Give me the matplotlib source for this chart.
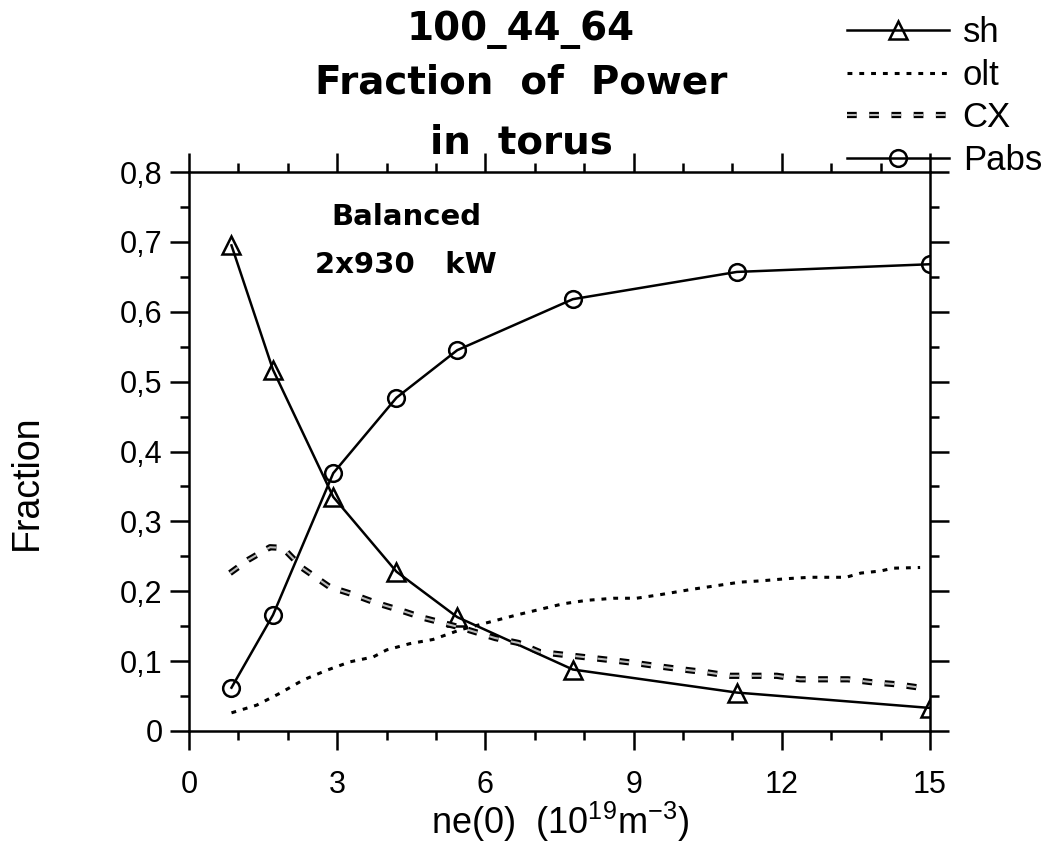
import matplotlib
matplotlib.use("Agg")
import matplotlib.pyplot as plt
from matplotlib.ticker import MultipleLocator, FixedLocator, FixedFormatter

plt.rcParams['font.family'] = ['Liberation Sans', 'DejaVu Sans']
plt.rcParams['mathtext.fontset'] = 'custom'
plt.rcParams['mathtext.rm'] = 'Liberation Sans'
plt.rcParams['mathtext.it'] = 'Liberation Sans:italic'
plt.rcParams['lines.scale_dashes'] = False

# marker series (sh, Pabs) share the same densities
ne_pts = [0.86, 1.7, 2.92, 4.2, 5.43, 7.77, 11.09, 15.0]
sh = [0.695, 0.517, 0.335, 0.228, 0.163, 0.088, 0.055, 0.033]
pabs = [0.062, 0.166, 0.369, 0.477, 0.545, 0.618, 0.657, 0.668]

# olt curve
ne_olt = [0.86, 1.37, 1.84, 2.31, 2.79, 3.26, 3.73, 4.0, 4.47, 4.94, 5.5, 6.09,
          6.63, 7.1, 7.57, 8.05, 8.6, 9.06, 9.53, 10.2, 10.68, 11.15, 11.6,
          12.1, 12.57, 13.3, 13.6, 14.0, 14.25, 14.8]
olt = [0.026, 0.037, 0.054, 0.073, 0.087, 0.099, 0.106, 0.116, 0.125, 0.131,
       0.145, 0.156, 0.166, 0.174, 0.182, 0.187, 0.19, 0.19, 0.195, 0.203,
       0.208, 0.213, 0.215, 0.218, 0.22, 0.22, 0.226, 0.229, 0.233, 0.234]

# CX curve
ne_cx = [0.83, 1.2, 1.64, 1.9, 2.3, 2.85, 3.3, 3.8, 4.27, 4.74, 5.5, 6.2,
         6.67, 7.1, 7.6, 8.1, 8.6, 9.06, 9.57, 10.0, 10.48, 10.95, 11.9,
         12.37, 13.34, 13.8, 14.3, 14.8]
cx = [0.226, 0.245, 0.263, 0.262, 0.233, 0.206, 0.196, 0.183, 0.173, 0.162,
      0.148, 0.133, 0.126, 0.113, 0.109, 0.105, 0.101, 0.097, 0.092, 0.088,
      0.084, 0.079, 0.079, 0.074, 0.074, 0.070, 0.067, 0.062]

xticks = [0, 3, 6, 9, 12, 15]
yticks = [0, 0.1, 0.2, 0.3, 0.4, 0.5, 0.6, 0.7, 0.8]
ytick_labels = ['0', '0,1', '0,2', '0,3', '0,4', '0,5', '0,6', '0,7', '0,8']

fig = plt.figure(figsize=(10.51, 8.5), dpi=100)
ax = fig.add_axes([189 / 1051, 1 - 731 / 850, 741 / 1051, 559 / 850])

l_sh, = ax.plot(ne_pts, sh, color='black', lw=1.8, marker='^', ms=13,
                mfc='none', mec='black', mew=1.8, label='sh')
l_olt, = ax.plot(ne_olt, olt, color='black', lw=2.2, dashes=(3.5, 5),
                 label='olt')
cx_out, = ax.plot(ne_cx, cx, color='black', lw=4.5, dashes=(7, 9))
cx_in, = ax.plot(ne_cx, cx, color='#bbbbbb', lw=1.5, dashes=(7, 9))
l_pabs, = ax.plot(ne_pts, pabs, color='black', lw=1.8, marker='o', ms=12,
                  mfc='none', mec='black', mew=1.8, label='Pabs')

ax.set_xlim(0, 15)
ax.set_ylim(0, 0.8)
ax.xaxis.set_major_locator(FixedLocator(xticks))
ax.xaxis.set_minor_locator(MultipleLocator(1))
ax.yaxis.set_major_locator(FixedLocator(yticks))
ax.yaxis.set_major_formatter(FixedFormatter(ytick_labels))
ax.yaxis.set_minor_locator(MultipleLocator(0.05))
ax.tick_params(which='both', direction='out', top=True, right=True, width=1.8)
ax.tick_params(which='major', length=14)
ax.tick_params(which='minor', length=6.5)
ax.tick_params(axis='y', labelsize=22, pad=5)
ax.tick_params(axis='x', labelsize=22, pad=14)
for s in ax.spines.values():
    s.set_linewidth(1.8)

ax.text(4.4, 0.735, 'Balanced', ha='center', va='center', fontsize=21,
        fontweight='bold', family='DejaVu Sans')
ax.text(4.4, 0.667, '2x930   kW', ha='center', va='center', fontsize=21,
        fontweight='bold', family='DejaVu Sans')

fig.text(521 / 1051, 1 - 30 / 850, '100_44_64', ha='center', va='center',
         fontsize=28, fontweight='bold', family='DejaVu Sans')
fig.text(521 / 1051, 1 - 83 / 850, 'Fraction  of  Power', ha='center',
         va='center', fontsize=28, fontweight='bold', family='DejaVu Sans')
fig.text(521 / 1051, 1 - 143 / 850, 'in  torus', ha='center', va='center',
         fontsize=28, fontweight='bold', family='DejaVu Sans')

fig.text(27 / 1051, 1 - 482 / 850, 'Fraction', rotation=90, ha='center',
         va='center', fontsize=27)
fig.text(560 / 1051, 1 - 822 / 850, r'ne(0)  (10$^{19}$m$^{-3}$)',
         ha='center', va='center', fontsize=26)

fig.legend([l_sh, l_olt, (cx_out, cx_in), l_pabs], ['sh', 'olt', 'CX', 'Pabs'],
           loc='upper left', bbox_to_anchor=(847 / 1051, 1 - 16 / 850),
           frameon=False, fontsize=25, handlelength=2.95, handletextpad=0.38,
           labelspacing=0.28, borderpad=0, borderaxespad=0, numpoints=1)

fig.savefig('out.png', dpi=100)
